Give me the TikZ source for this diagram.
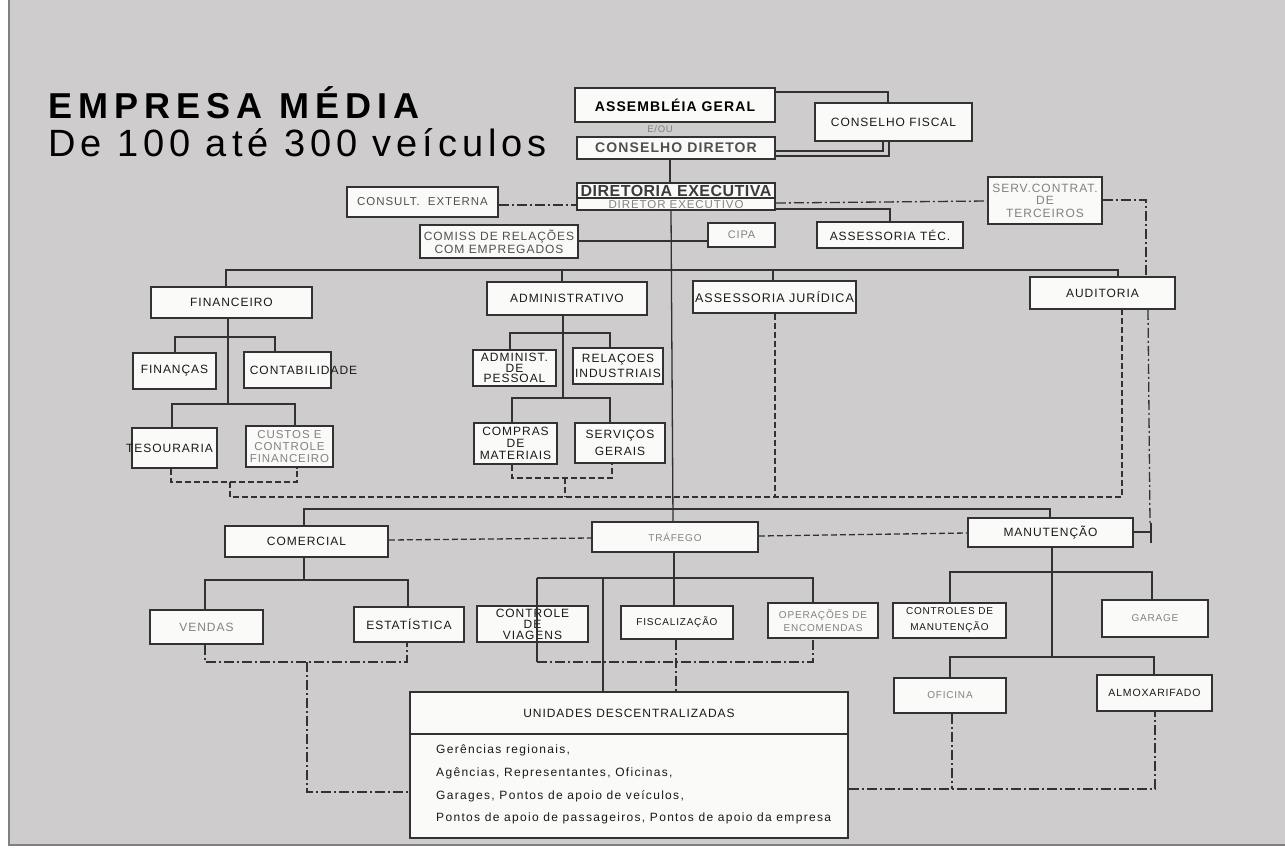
\documentclass[tikz,border=0pt]{standalone}
\usepackage{fontspec}
\setmainfont{Liberation Sans}
\newfontfamily\bxf[LetterSpace=8]{Liberation Sans}
\newfontfamily\bxs[LetterSpace=3]{Liberation Sans}
\newfontfamily\bodyf[LetterSpace=11]{Liberation Sans}
\newfontfamily\ttla[LetterSpace=17]{Liberation Sans}
\newfontfamily\ttlb[LetterSpace=13]{Liberation Sans}
\usetikzlibrary{fit}
\definecolor{bg}{RGB}{206,204,204}
\definecolor{bw}{RGB}{250,250,248}
\definecolor{lc}{RGB}{50,50,50}
\definecolor{tdark}{RGB}{25,25,25}
\definecolor{tmid}{RGB}{80,80,80}
\definecolor{tfade}{RGB}{130,130,130}
\newcommand\fs[2]{\fontsize{#1}{#2}\selectfont}
\tikzset{
 box/.style={draw=lc, fill=bw, line width=1.6pt, inner sep=0pt},
 tx/.style={inner sep=0pt, align=center, text=tdark, font=\bxf\fs{12}{13}},
 ln/.style={draw=lc, line width=1.3pt},
 dsh/.style={ln, dash pattern=on 6pt off 3pt},
 ddt/.style={ln, dash pattern=on 10pt off 3pt on 2pt off 3pt},
}
\newcommand\bx[5][]{%
 \node[box, fit={(#3) (#4)}] (#2) {};
 \node[tx,#1] (#2t) at (#2.center) {#5};}
\begin{document}
\begin{tikzpicture}[x=1pt,y=-1pt]
\useasboundingbox (0,0) rectangle (1285,857);
\fill[white] (0,0) rectangle (1285,857);
\fill[bg] (9,0) rectangle (1285,845);
\draw[gray, line width=1.2pt] (9,0) -- (9,845) -- (1285,845);

% titles
\node[anchor=base west, inner sep=0pt, font=\ttla\bfseries\fs{36}{40}, text=black] (t1) at (48,118) {EMPRESA MÉDIA};
\node[anchor=base west, inner sep=0pt, font=\ttlb\fs{38}{44}, text=black] (t2) at (48,156) {De 100 até 300 veículos};

% top boxes
\bx[font=\bxf\bfseries\fs{14}{15}, text=black]{ag}{575,88}{775,122}{ASSEMBLÉIA GERAL}
\node[tx, font=\bxf\fs{9.5}{10}, text=tfade] (eou) at (660,129) {E/OU};
\bx[font=\bxf\bfseries\fs{14}{15}, text=tmid]{cd}{577,137}{775,159}{CONSELHO DIRETOR}
\bx{cf}{815,103}{972,141}{CONSELHO FISCAL}
\bx{de}{577,183}{775,210}{}
\draw[ln] (de.west |- 0,198) -- (de.east |- 0,198);
\node[tx, font=\bxs\bfseries\fs{16}{16}, text=tdark!85!white] (de1) at (676,191) {DIRETORIA EXECUTIVA};
\node[tx, font=\bxf\fs{11.5}{12}, text=tfade] (de2) at (676,204.5) {DIRETOR EXECUTIVO};
\bx[font=\bxf\fs{11.5}{12}, text=tmid]{ce}{347,187}{498,217}{CONSULT.\ \ EXTERNA}
\bx[font=\bxf\fs{12}{12.5}, text=tfade]{sv}{988,177}{1102,224}{SERV.CONTRAT.\\DE\\TERCEIROS}
\bx[font=\bxf\fs{12}{13}, text=tmid]{cm}{420,225}{578,258}{COMISS DE RELAÇÕES\\COM EMPREGADOS}
\bx[font=\bxf\fs{11}{12}, text=tfade]{ci}{708,223}{775,247}{CIPA}
\bx{at}{817,222}{963,248}{ASSESSORIA TÉC.}

% level 1
\bx{fi}{151,287}{312,318}{FINANCEIRO}
\bx{ad}{487,282}{647,315}{ADMINISTRATIVO}
\bx[font=\bxf\fs{12.5}{13}]{aj}{693,281}{856,313}{ASSESSORIA JURÍDICA}
\bx{au}{1030,277}{1175,309}{AUDITORIA}

% financeiro children
\bx{fn}{133,353}{216,389}{FINANÇAS}
\bx[xshift=16pt]{co}{244,352}{331,388}{CONTABILIDADE}
\bx[xshift=-5pt]{te}{132,428}{217,468}{TESOURARIA}
\bx[font=\bxf\fs{11.5}{12}, text=tfade]{cu}{246,426}{333,467}{CUSTOS E\\CONTROLE\\FINANCEIRO}

% administrativo children
\bx[font=\bxf\fs{12}{10.5}]{ap}{473,350}{556,386}{ADMINIST.\\DE\\PESSOAL}
\bx[font=\bxf\fs{12}{15}]{ri}{573,348}{663,384}{RELAÇOES\\INDUSTRIAIS}
\bx[font=\bxf\fs{12}{12}]{cp}{474,423}{557,464}{COMPRAS\\DE\\MATERIAIS}
\bx[font=\bxf\fs{12}{17}]{sg}{575,423}{665,463}{SERVIÇOS\\GERAIS}

% level 2
\bx{cmr}{225,526}{388,557}{COMERCIAL}
\bx[font=\bxf\fs{10}{11}, text=tfade]{tr}{592,522}{758,552}{TRÁFEGO}
\bx{ma}{968,518}{1133,547}{MANUTENÇÃO}

% comercial children
\bx[text=tfade]{ve}{150,610}{263,644}{VENDAS}
\bx{es}{354,607}{464,642}{ESTATÍSTICA}

% trafego children
\bx[font=\bxf\fs{12}{11}]{cv}{477,606}{588,642}{CONTROLE\\DE\\VIAGENS}
\bx[font=\bxf\fs{10}{11}]{fz}{621,606}{733,639}{FISCALIZAÇÃO}
\bx[font=\bxf\fs{10}{13}, text=tfade]{op}{768,603}{878,638}{OPERAÇÕES DE\\ENCOMENDAS}

% manutencao children
\bx[font=\bxf\fs{10}{16}]{cn}{893,603}{1006,638}{CONTROLES DE\\MANUTENÇÃO}
\bx[font=\bxf\fs{10}{11}, text=tfade]{ga}{1102,600}{1208,637}{GARAGE}
\bx[font=\bxf\fs{10}{11}, text=tfade]{of}{894,678}{1006,713}{OFICINA}
\bx[font=\bxf\fs{10.5}{11}]{al}{1097,675}{1212,711}{ALMOXARIFADO}

% unidades
\bx{un}{410,692}{848,838}{}
\draw[draw=lc, line width=1.6pt] (un.west |- 0,734) -- (un.east |- 0,734);
\node[tx] (unh) at (629,713) {UNIDADES DESCENTRALIZADAS};
\node[anchor=west, inner sep=0pt, font=\bodyf\fs{12}{13}, text=tdark] (u1) at (436,750) {Gerências regionais,};
\node[anchor=west, inner sep=0pt, font=\bodyf\fs{12}{13}, text=tdark] (u2) at (436,773) {Agências, Representantes, Oficinas,};
\node[anchor=west, inner sep=0pt, font=\bodyf\fs{12}{13}, text=tdark] (u3) at (436,796) {Garages, Pontos de apoio de veículos,};
\node[anchor=west, inner sep=0pt, font=\bodyf\fs{12}{13}, text=tdark] (u4) at (436,818) {Pontos de apoio de passageiros, Pontos de apoio da empresa};

% ---- connectors: top
\draw[ln] (ag.east |- 0,92) -| (cf.north -| 888,0);
\draw[ln] (cd.east |- 0,151) -| (cf.south -| 883,0);
\draw[ln] (cd.east |- 0,156) -| (cf.south -| 889,0);
\draw[ln] (cd.south -| 670,0) -- (de.north -| 670,0);
\draw[ln] (de.east |- 0,209) -| (at.north -| 890,0);
\draw[ln] (cm.east |- 0,241) -- (ci.west |- 0,241);
\draw[ln] (de.south -| 671,0) -- (tr.north -| 673,0);
\draw[ddt] (ce.east |- 0,205) -- (de.west |- 0,205);
\draw[ddt] (de.east |- 0,203) -- (sv.west |- 0,201);
\draw[ddt] (sv.east |- 0,200) -| (au.north -| 1146,0);
\draw[ddt] (au.south -| 1148,0) -- (1150,523);
\draw[ln] (ma.east |- 0,532) -- (1151,532);
\draw[ln] (1151,523) -- (1151,543);

% level 1 bar
\coordinate (b1a) at (226,270);
\coordinate (b1b) at (1118,270);
\draw[ln] (fi.north -| b1a) -- (b1a) -- (b1b) -- (au.north -| b1b);
\draw[ln] (ad.north -| 562,0) -- (562,270);
\draw[ln] (aj.north -| 773,0) -- (773,270);

% financeiro
\draw[ln] (fi.south -| 228,0) -- (228,404);
\draw[ln] (fn.north -| 175,0) -- (175,337) -- (275,337) -- (co.north -| 275,0);
\draw[ln] (te.north -| 172,0) -- (172,404) -- (295,404) -- (cu.north -| 295,0);
\draw[dsh] (te.south -| 171,0) -- (171,482) -- (297,482) -- (cu.south -| 297,0);
\draw[dsh] (230,482) -- (230,497) -- (1122,497) -- (au.south -| 1122,0);

% administrativo
\draw[ln] (ad.south -| 563,0) -- (563,398);
\draw[ln] (ap.north -| 510,0) -- (510,333) -- (610,333) -- (ri.north -| 610,0);
\draw[ln] (cp.north -| 512,0) -- (512,398) -- (610,398) -- (sg.north -| 610,0);
\draw[dsh] (cp.south -| 512,0) -- (512,478) -- (612,478) -- (sg.south -| 612,0);
\draw[dsh] (565,478) -- (565,497);
\draw[dsh] (aj.south -| 775,0) -- (775,497);

% level 2
\draw[ln] (cmr.north -| 304,0) -- (304,509) -- (1050,509) -- (ma.north -| 1050,0);
\draw[dsh] (cmr.east |- 0,540) -- (tr.west |- 0,538);
\draw[dsh] (tr.east |- 0,536) -- (ma.west |- 0,533);

% comercial
\draw[ln] (cmr.south -| 304,0) -- (304,580);
\draw[ln] (ve.north -| 205,0) -- (205,580) -- (408,580) -- (es.north -| 408,0);
\draw[ddt] (ve.south -| 205,0) -- (205,662) -- (407,662) -- (es.south -| 407,0);
\draw[ddt] (307,662) -- (307,792) -- (un.west |- 0,792);

% trafego
\draw[ln] (tr.south -| 674,0) -- (fz.north -| 674,0);
\draw[ln] (537,578) -- (813,578) -- (op.north -| 813,0);
\draw[ln] (537,578) -- (537,662);
\draw[ln] (603,578) -- (un.north -| 603,0);
\draw[ddt] (537,662) -- (813,662) -- (op.south -| 813,0);
\draw[ddt] (fz.south -| 676,0) -- (un.north -| 676,0);

% manutencao
\draw[ln] (ma.south -| 1052,0) -- (1052,657);
\draw[ln] (cn.north -| 950,0) -- (950,572) -- (1152,572) -- (ga.north -| 1152,0);
\draw[ln] (of.north -| 950,0) -- (950,657) -- (1154,657) -- (al.north -| 1154,0);
\draw[ddt] (of.south -| 952,0) -- (952,789);
\draw[ddt] (un.east |- 0,789) -- (1155,789) -- (al.south -| 1155,0);
\end{tikzpicture}
\end{document}
